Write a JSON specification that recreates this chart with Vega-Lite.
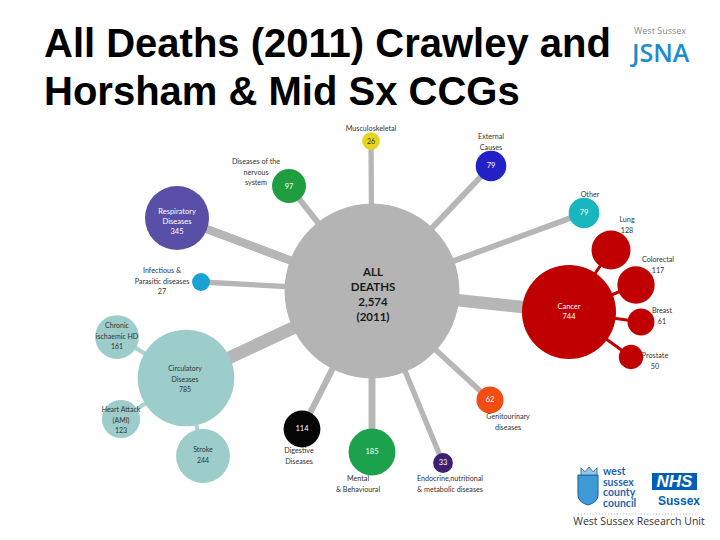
{
  "$schema": "https://vega.github.io/schema/vega-lite/v6.json",
  "width": 720,
  "height": 540,
  "autosize": {"type": "none"},
  "padding": 0,
  "background": "white",
  "title": {
    "text": ["All Deaths (2011) Crawley and", "Horsham & Mid Sx CCGs"],
    "anchor": "start",
    "frame": "group",
    "dx": 44,
    "offset": -113,
    "baseline": "top",
    "font": "Liberation Sans",
    "fontSize": 40,
    "fontWeight": "bold",
    "lineHeight": 48,
    "color": "#000000"
  },
  "config": {"view": {"stroke": null}},
  "datasets": {
    "nodes": [
      {"id": "all", "group": "All", "value": 2574, "parent": null, "x": 372, "y": 291},
      {"id": "musc", "group": "Musculoskeletal", "value": 26, "parent": "all", "x": 371, "y": 141},
      {"id": "ext", "group": "External Causes", "value": 79, "parent": "all", "x": 491, "y": 166},
      {"id": "nerv", "group": "Nervous system", "value": 97, "parent": "all", "x": 289, "y": 186},
      {"id": "resp", "group": "Respiratory", "value": 345, "parent": "all", "x": 177, "y": 218},
      {"id": "other", "group": "Other", "value": 79, "parent": "all", "x": 584, "y": 213},
      {"id": "cancer", "group": "Cancer", "value": 744, "parent": "all", "x": 569, "y": 312},
      {"id": "lung", "group": "Cancer", "value": 128, "parent": "cancer", "x": 611, "y": 250},
      {"id": "colo", "group": "Cancer", "value": 117, "parent": "cancer", "x": 636, "y": 285},
      {"id": "breast", "group": "Cancer", "value": 61, "parent": "cancer", "x": 641, "y": 322},
      {"id": "prostate", "group": "Cancer", "value": 50, "parent": "cancer", "x": 631, "y": 357},
      {"id": "inf", "group": "Infectious", "value": 27, "parent": "all", "x": 201, "y": 282},
      {"id": "circ", "group": "Circulatory", "value": 785, "parent": "all", "x": 186, "y": 378},
      {"id": "chronic", "group": "Circulatory", "value": 161, "parent": "circ", "x": 117, "y": 337},
      {"id": "heart", "group": "Circulatory", "value": 123, "parent": "circ", "x": 121, "y": 419},
      {"id": "stroke", "group": "Circulatory", "value": 244, "parent": "circ", "x": 203, "y": 456},
      {"id": "dig", "group": "Digestive", "value": 114, "parent": "all", "x": 302, "y": 429},
      {"id": "mental", "group": "Mental", "value": 185, "parent": "all", "x": 372, "y": 452},
      {"id": "endo", "group": "Endocrine", "value": 33, "parent": "all", "x": 443, "y": 463},
      {"id": "genito", "group": "Genitourinary", "value": 62, "parent": "all", "x": 490, "y": 400}
    ],
    "labels": [
      {"kind": "in_white", "text": ["Respiratory", "Diseases", "345"], "x": 177, "y": 212},
      {"kind": "in_white", "text": ["Cancer", "744"], "x": 569, "y": 307},
      {"kind": "in_white", "text": "79", "x": 491, "y": 166},
      {"kind": "in_white", "text": "97", "x": 289, "y": 187},
      {"kind": "in_white", "text": "79", "x": 584, "y": 213},
      {"kind": "in_white", "text": "114", "x": 302, "y": 429},
      {"kind": "in_white", "text": "185", "x": 372, "y": 452},
      {"kind": "in_white", "text": "33", "x": 443, "y": 463},
      {"kind": "in_white", "text": "62", "x": 490, "y": 400},
      {"kind": "in_dark", "text": "26", "x": 371, "y": 142},
      {"kind": "in_dark", "text": ["Circulatory", "Diseases", "785"], "x": 185, "y": 369},
      {"kind": "in_dark", "text": ["Chronic", "ischaemic HD", "161"], "x": 117, "y": 326},
      {"kind": "in_dark", "text": ["Heart Attack", "(AMI)", "123"], "x": 121, "y": 410},
      {"kind": "in_dark", "text": ["Stroke", "244"], "x": 203, "y": 450},
      {"kind": "out", "text": "Musculoskeletal", "x": 371, "y": 129},
      {"kind": "out", "text": ["External", "Causes"], "x": 491, "y": 137},
      {"kind": "out", "text": ["Diseases of the", "nervous", "system"], "x": 256, "y": 162},
      {"kind": "out", "text": "Other", "x": 590, "y": 195},
      {"kind": "out", "text": ["Lung", "128"], "x": 627, "y": 220},
      {"kind": "out", "text": ["Colorectal", "117"], "x": 658, "y": 260},
      {"kind": "out", "text": ["Breast", "61"], "x": 662, "y": 311},
      {"kind": "out", "text": ["Prostate", "50"], "x": 655, "y": 356},
      {"kind": "out", "text": ["Infectious &", "Parasitic diseases", "27"], "x": 162, "y": 271},
      {"kind": "out", "text": ["Digestive", "Diseases"], "x": 299, "y": 451},
      {"kind": "out", "text": ["Mental", "& Behavioural"], "x": 358, "y": 479},
      {"kind": "out", "text": ["Endocrine,nutritional", "& metabolic diseases"], "x": 450, "y": 479},
      {"kind": "out", "text": ["Genitourinary", "diseases"], "x": 508, "y": 417},
      {"kind": "center", "text": ["ALL", "DEATHS", "2,574", "(2011)"], "x": 373, "y": 273}
    ],
    "decor": [
      {"item": "jsna_small", "text": "West Sussex", "x": 634, "y": 31},
      {"item": "jsna", "text": "JSNA", "x": 632, "y": 62},
      {"item": "crown", "x": 589, "y": 471},
      {"item": "shield", "x": 588, "y": 490},
      {"item": "wscc", "text": ["west", "sussex", "county", "council"], "x": 603, "y": 472},
      {"item": "nhsbox", "x": 652, "x2": 697, "y": 473, "y2": 490},
      {"item": "nhs", "text": "NHS", "x": 674.5, "y": 481.5},
      {"item": "sussex", "text": "Sussex", "x": 679, "y": 501},
      {"item": "dots", "x": 578, "x2": 698, "y": 514},
      {"item": "wsru", "text": "West Sussex Research Unit", "x": 639, "y": 522}
    ]
  },
  "encoding": {
    "x": {"field": "x", "type": "quantitative", "scale": {"domain": [0, 720], "nice": false, "zero": false}, "axis": null},
    "y": {"field": "y", "type": "quantitative", "scale": {"domain": [0, 540], "reverse": true, "nice": false, "zero": false}, "axis": null}
  },
  "layer": [
    {
      "data": {"name": "nodes"},
      "transform": [
        {"filter": "datum.parent === 'all'"},
        {"lookup": "parent", "from": {"data": {"name": "nodes"}, "key": "id", "fields": ["x", "y"]}, "as": ["px", "py"]}
      ],
      "mark": {"type": "rule", "color": "#b6b6b6"},
      "encoding": {
        "x2": {"field": "px"},
        "y2": {"field": "py"},
        "strokeWidth": {"field": "value", "type": "quantitative", "scale": {"domain": [0, 800], "range": [5, 13]}, "legend": null}
      }
    },
    {
      "data": {"name": "nodes"},
      "transform": [
        {"filter": "datum.parent === 'cancer'"},
        {"lookup": "parent", "from": {"data": {"name": "nodes"}, "key": "id", "fields": ["x", "y"]}, "as": ["px", "py"]}
      ],
      "mark": {"type": "rule", "color": "#c00000", "strokeWidth": 3},
      "encoding": {"x2": {"field": "px"}, "y2": {"field": "py"}}
    },
    {
      "data": {"name": "nodes"},
      "transform": [
        {"filter": "datum.parent === 'circ'"},
        {"lookup": "parent", "from": {"data": {"name": "nodes"}, "key": "id", "fields": ["x", "y"]}, "as": ["px", "py"]}
      ],
      "mark": {"type": "rule", "color": "#aad3cf", "strokeWidth": 4},
      "encoding": {"x2": {"field": "px"}, "y2": {"field": "py"}}
    },
    {
      "data": {"name": "nodes"},
      "mark": {"type": "point", "shape": "circle", "filled": true, "opacity": 1, "strokeWidth": 0},
      "encoding": {
        "size": {"field": "value", "type": "quantitative", "scale": {"domain": [0, 2574], "range": [0, 30600]}, "legend": null},
        "color": {
          "field": "group", "type": "nominal", "legend": null,
          "scale": {
            "domain": ["All", "Musculoskeletal", "External Causes", "Nervous system", "Respiratory", "Other", "Cancer", "Infectious", "Circulatory", "Digestive", "Mental", "Endocrine", "Genitourinary"],
            "range": ["#b4b4b4", "#e8d41e", "#2222c6", "#1e9e3e", "#5a4fa7", "#1ab6c0", "#c00000", "#1aa2d4", "#9ccdca", "#050505", "#1ca24c", "#3d2170", "#f24d12"]
          }
        }
      }
    },
    {
      "data": {"name": "labels"},
      "transform": [{"filter": "datum.kind === 'in_white'"}],
      "mark": {"type": "text", "font": "Lato", "fontSize": 7.5, "lineHeight": 10.2, "color": "#ffffff", "align": "center", "baseline": "middle"},
      "encoding": {"text": {"field": "text"}}
    },
    {
      "data": {"name": "labels"},
      "transform": [{"filter": "datum.kind === 'in_dark'"}],
      "mark": {"type": "text", "font": "Lato", "fontSize": 7, "lineHeight": 10.5, "color": "#333333", "align": "center", "baseline": "middle"},
      "encoding": {"text": {"field": "text"}}
    },
    {
      "data": {"name": "labels"},
      "transform": [{"filter": "datum.kind === 'out'"}],
      "mark": {"type": "text", "font": "Lato", "fontSize": 7.2, "lineHeight": 10.5, "color": "#333333", "align": "center", "baseline": "middle"},
      "encoding": {"text": {"field": "text"}}
    },
    {
      "data": {"name": "labels"},
      "transform": [{"filter": "datum.kind === 'center'"}],
      "mark": {"type": "text", "font": "Lato", "fontSize": 11.5, "fontWeight": "bold", "lineHeight": 15, "color": "#1a1a1a", "align": "center", "baseline": "middle"},
      "encoding": {"text": {"field": "text"}}
    },
    {
      "data": {"name": "decor"},
      "transform": [{"filter": "datum.item === 'jsna_small'"}],
      "mark": {"type": "text", "font": "Open Sans", "fontSize": 9, "color": "#7f8d94", "align": "left", "baseline": "middle"},
      "encoding": {"text": {"field": "text"}}
    },
    {
      "data": {"name": "decor"},
      "transform": [{"filter": "datum.item === 'jsna'"}],
      "mark": {"type": "text", "font": "Open Sans", "fontSize": 25, "fontWeight": 600, "color": "#1b8ccc", "align": "left", "baseline": "alphabetic"},
      "encoding": {"text": {"field": "text"}}
    },
    {
      "data": {"name": "decor"},
      "transform": [{"filter": "datum.item === 'shield'"}],
      "mark": {"type": "point", "filled": true, "opacity": 1, "size": 900, "color": "#3d9ad6", "stroke": "#1b5fa0", "strokeWidth": 1,
        "shape": "M-0.67,-1 L0.67,-1 L0.67,0.3 C0.67,0.75 0.3,0.9 0,1 C-0.3,0.9 -0.67,0.75 -0.67,0.3 Z"}
    },
    {
      "data": {"name": "decor"},
      "transform": [{"filter": "datum.item === 'crown'"}],
      "mark": {"type": "point", "filled": true, "opacity": 1, "size": 256, "color": "#9cc4e0", "stroke": "#1b5fa0", "strokeWidth": 0.8,
        "shape": "M-1,0.5 L-1,-0.4 L-0.5,0.1 L0,-0.5 L0.5,0.1 L1,-0.4 L1,0.5 Z"}
    },
    {
      "data": {"name": "decor"},
      "transform": [{"filter": "datum.item === 'wscc'"}],
      "mark": {"type": "text", "font": "Lato", "fontSize": 10.5, "fontWeight": "bold", "lineHeight": 10.5, "color": "#1f66ad", "align": "left", "baseline": "middle"},
      "encoding": {"text": {"field": "text"}}
    },
    {
      "data": {"name": "decor"},
      "transform": [{"filter": "datum.item === 'nhsbox'"}],
      "mark": {"type": "rect", "color": "#005eb8"},
      "encoding": {"x2": {"field": "x2"}, "y2": {"field": "y2"}}
    },
    {
      "data": {"name": "decor"},
      "transform": [{"filter": "datum.item === 'nhs'"}],
      "mark": {"type": "text", "font": "Liberation Sans", "fontSize": 17, "fontWeight": "bold", "fontStyle": "italic", "color": "#ffffff", "align": "center", "baseline": "middle"},
      "encoding": {"text": {"field": "text"}}
    },
    {
      "data": {"name": "decor"},
      "transform": [{"filter": "datum.item === 'sussex'"}],
      "mark": {"type": "text", "font": "Liberation Sans", "fontSize": 12, "fontWeight": "bold", "color": "#005eb8", "align": "center", "baseline": "middle"},
      "encoding": {"text": {"field": "text"}}
    },
    {
      "data": {"name": "decor"},
      "transform": [{"filter": "datum.item === 'dots'"}],
      "mark": {"type": "rule", "color": "#bbbbbb", "strokeWidth": 1, "strokeDash": [1, 2]},
      "encoding": {"x2": {"field": "x2"}}
    },
    {
      "data": {"name": "decor"},
      "transform": [{"filter": "datum.item === 'wsru'"}],
      "mark": {"type": "text", "font": "Open Sans", "fontSize": 10.5, "color": "#333333", "align": "center", "baseline": "middle"},
      "encoding": {"text": {"field": "text"}}
    }
  ]
}
